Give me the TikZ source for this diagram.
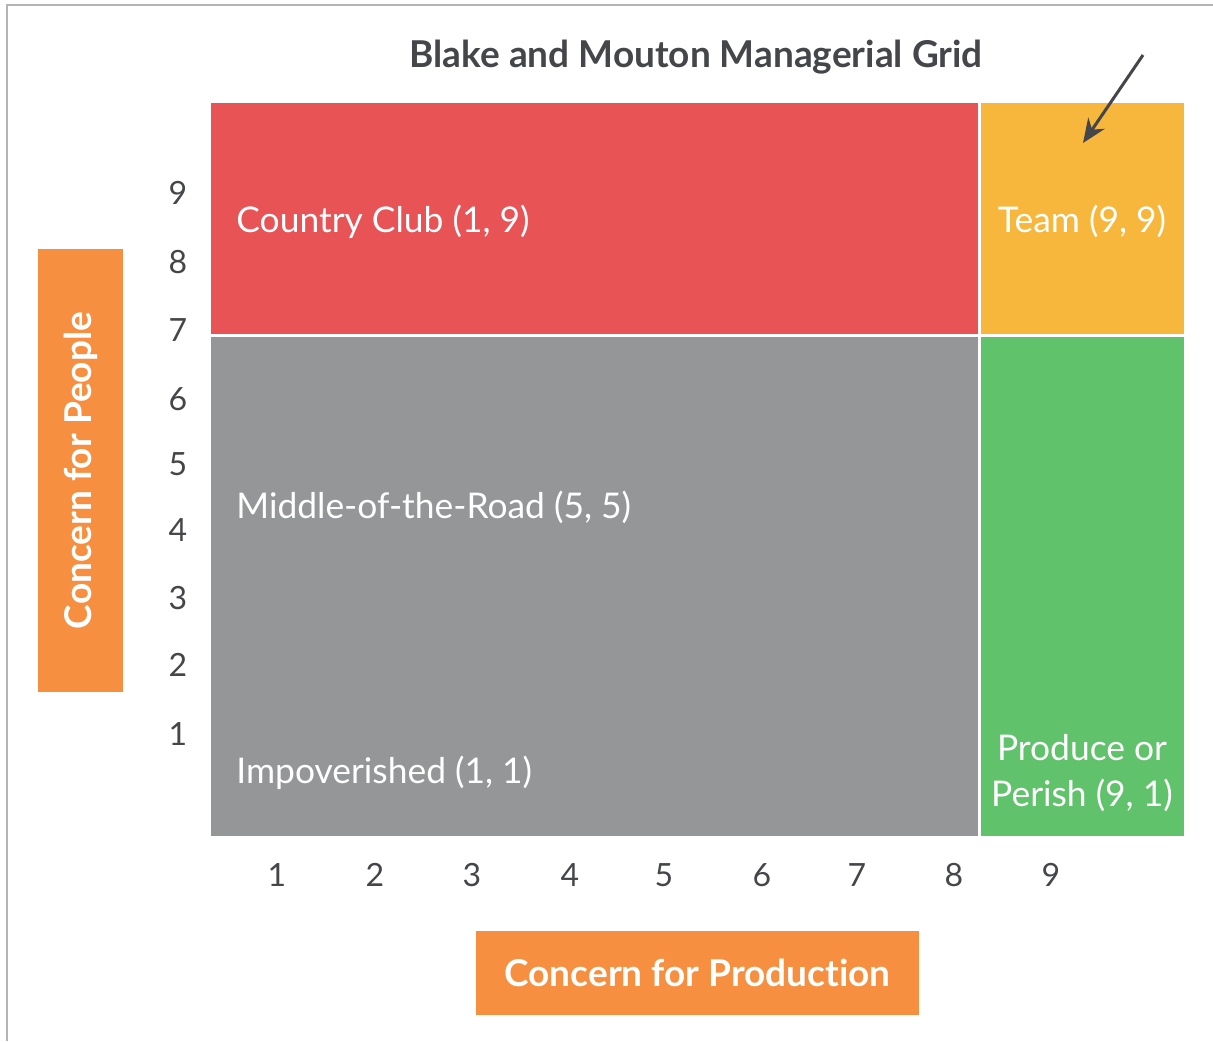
\documentclass[tikz,border=0pt]{standalone}
\usepackage{fontspec}
\setmainfont{Lato}[Ligatures=NoCommon]
\usepackage{tikz}
\usetikzlibrary{arrows.meta,positioning,calc}
\definecolor{clubred}{HTML}{E85355}
\definecolor{teamyellow}{HTML}{F7B73C}
\definecolor{roadgray}{HTML}{959698}
\definecolor{perishgreen}{HTML}{60C26A}
\definecolor{axisorange}{HTML}{F68F40}
\definecolor{inkgray}{HTML}{45464A}
\definecolor{framegray}{HTML}{B4B4B4}
\tikzstyle{celltext} = [text=white, font=\fontsize{17.7}{23}\selectfont, inner sep=0pt]
\tikzstyle{ticknum} = [text=inkgray, font=\fontsize{16}{18}\selectfont, inner sep=0pt]
\tikzstyle{axisbox} = [fill=axisorange, text=white, font=\bfseries\fontsize{18.5}{22}\selectfont, minimum width=221.5pt, minimum height=42.5pt, inner sep=0pt]
\tikzstyle{arrow} = [line width=1.5pt, -{Stealth[length=12pt,width=10pt]}, inkgray]

\begin{document}
\begin{tikzpicture}[x=0.5pt,y=-0.5pt]
\useasboundingbox (0,0) rectangle (1213,1041);
\draw[framegray, line width=1pt] (7,1041) -- (7,5) -- (1213,5);

% grid cells
\fill[clubred] (211,103) rectangle (978,334);
\fill[teamyellow] (981,103) rectangle (1184,334);
\fill[roadgray] (211,337) rectangle (978,836);
\fill[perishgreen] (981,337) rectangle (1184,836);

\node[font=\bfseries\fontsize{18.5}{22}\selectfont, text=inkgray, anchor=base] (title) at (696,67) {Blake and Mouton Managerial Grid};

\node[celltext, anchor=base west] (club) at (236,232) {Country Club (1, 9)};
\node[celltext, anchor=base] (team) at (1082,232) {Team (9, 9)};
\node[celltext, anchor=base west] (road) at (236,518) {Middle-of-the-Road (5, 5)};
\node[celltext, anchor=base west] (poor) at (236,783) {Impoverished (1, 1)};
\node[celltext, anchor=base, align=center] (perish) at (1082,806) {Produce or\\Perish (9, 1)};

\coordinate (pointer) at (1143,55);
\coordinate (pointee) at (1083,143);
\draw[arrow] (pointer) -- (pointee);

% axis numbers
\foreach \n/\y in {9/193,8/262,7/330,6/399,5/464,4/530,3/598,2/665,1/734}
  \node[ticknum, anchor=base] (ytick\n) at (178,\y+11) {\n};
\foreach \n/\x in {1/277,2/375,3/472,4/570,5/664,6/762,7/857,8/954,9/1051}
  \node[ticknum, anchor=base] (xtick\n) at (\x,886) {\n};

\node[axisbox, rotate=90] (people) at (80.5,470.5) {Concern for People};
\node[axisbox, minimum height=42pt] (production) at (697.5,973) {Concern for Production};
\end{tikzpicture}
\end{document}
